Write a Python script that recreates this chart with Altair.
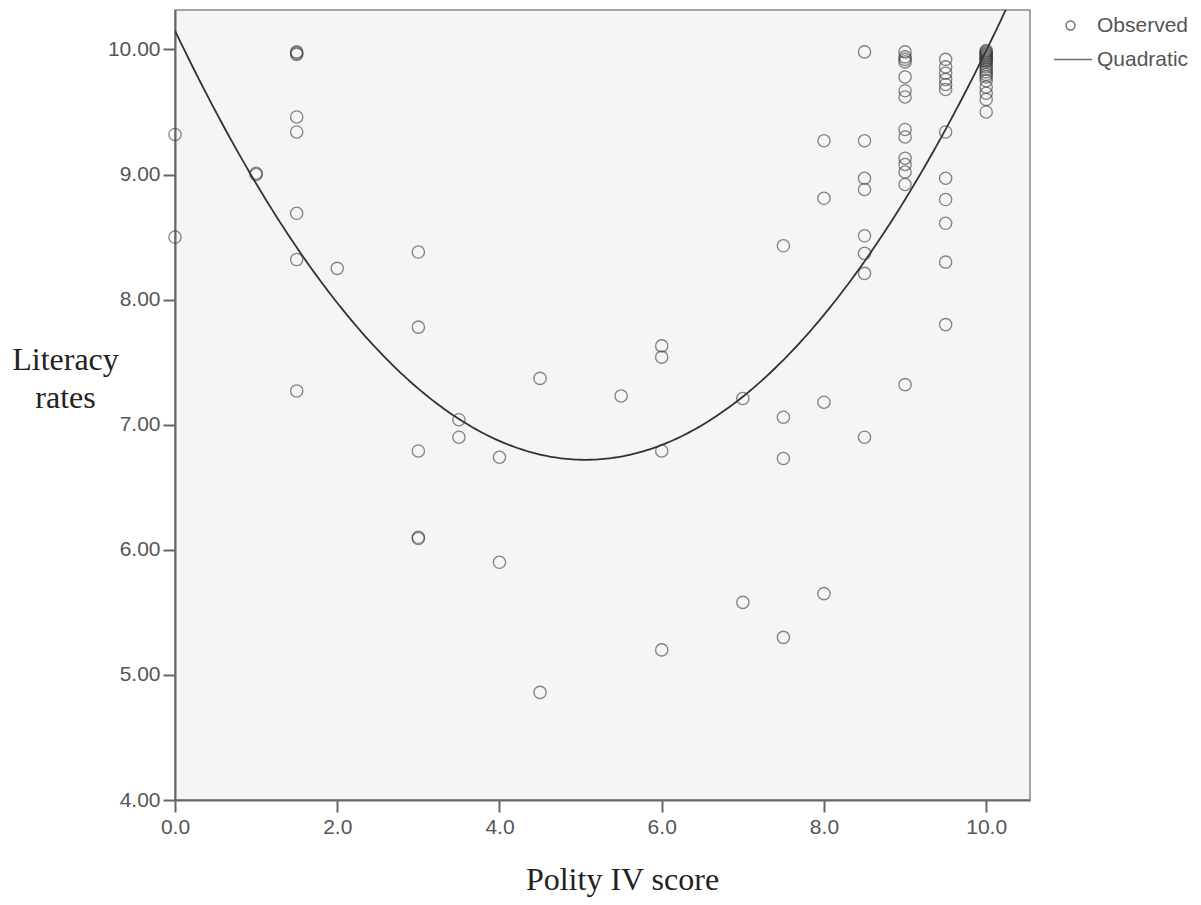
import altair as alt
import pandas as pd
import numpy as np

# Observed data (Polity IV score, literacy rate)
polity = (
    [0.0, 0.0]
    + [1.0, 1.0]
    + [1.5] * 8
    + [2.0]
    + [3.0] * 5
    + [3.5] * 2
    + [4.0] * 2
    + [4.5] * 2
    + [5.5]
    + [6.0] * 4
    + [7.0] * 2
    + [7.5] * 4
    + [8.0] * 4
    + [8.5] * 8
    + [9.0] * 14
    + [9.5] * 12
    + [10.0] * 21
)
literacy = (
    [9.32, 8.50]
    + [9.00, 9.01]
    + [9.98, 9.97, 9.96, 9.46, 9.34, 8.69, 8.32, 7.27]
    + [8.25]
    + [8.38, 7.78, 6.79, 6.10, 6.09]
    + [7.04, 6.90]
    + [6.74, 5.90]
    + [7.37, 4.86]
    + [7.23]
    + [7.63, 7.54, 6.79, 5.20]
    + [7.21, 5.58]
    + [8.43, 7.06, 6.73, 5.30]
    + [9.27, 8.81, 7.18, 5.65]
    + [9.98, 9.27, 8.97, 8.88, 8.51, 8.37, 8.21, 6.90]
    + [9.98, 9.94, 9.92, 9.90, 9.78, 9.67, 9.62, 9.36, 9.30, 9.13, 9.08, 9.02, 8.92, 7.32]
    + [9.92, 9.86, 9.81, 9.76, 9.72, 9.68, 9.34, 8.97, 8.80, 8.61, 8.30, 7.80]
    + [9.99, 9.98, 9.97, 9.96, 9.95, 9.94, 9.93, 9.92, 9.91, 9.90, 9.88, 9.86,
       9.84, 9.82, 9.80, 9.78, 9.75, 9.70, 9.65, 9.60, 9.50]
)

# Quadratic fit coefficients (as shown by the fitted curve)
b0, b1, b2 = 10.15, -1.356, 0.134
x_ticks = [0, 2, 4, 6, 8, 10]
y_ticks = [4, 5, 6, 7, 8, 9, 10]
x_domain = [0, 10.54]
y_domain = [4, 10.315]

obs = pd.DataFrame({"polity": polity, "literacy": literacy, "series": "Observed"})
xs = np.linspace(x_domain[0], x_domain[1], 300)
fit = pd.DataFrame({"polity": xs, "literacy": b0 + b1 * xs + b2 * xs ** 2})

xscale = alt.Scale(domain=x_domain, nice=False, zero=False)
yscale = alt.Scale(domain=y_domain, nice=False, zero=False)

xaxis = alt.Axis(
    values=x_ticks, format=".1f", title="Polity IV score",
    titleX=447, titleY=89, titleAnchor="start", titleAlign="center",
    titleBaseline="alphabetic", labelPadding=4,
)
yaxis = alt.Axis(
    values=y_ticks, format=".2f", title=["Literacy", "rates"],
    titleAngle=0, titleX=-110, titleY=359, titleAlign="center",
    titleBaseline="alphabetic", titleLineHeight=38, labelPadding=3,
)

points = alt.Chart(obs).mark_point(
    filled=False, size=150, stroke="#3a3a3a", strokeWidth=1.35, strokeOpacity=0.85,
).encode(
    x=alt.X("polity:Q", scale=xscale, axis=xaxis),
    y=alt.Y("literacy:Q", scale=yscale, axis=yaxis),
    shape=alt.Shape(
        "series:N",
        scale=alt.Scale(domain=["Observed", "Quadratic"], range=["circle", "M-3.69,0L4.81,0"]),
        legend=alt.Legend(
            title=None, orient="none", legendX=885, legendY=5,
            symbolSize=80, symbolStrokeColor="#333333", symbolStrokeWidth=1.4,
            labelFont="Liberation Sans", labelFontSize=21, labelColor="#555555",
            labelOffset=16, rowPadding=12,
        ),
    ),
)

line = alt.Chart(fit).mark_line(color="#333333", strokeWidth=1.8, clip=True).encode(
    x=alt.X("polity:Q", scale=xscale),
    y=alt.Y("literacy:Q", scale=yscale),
)

chart = (
    alt.layer(line, points)
    .properties(
        width=855, height=790,
        autosize=alt.AutoSizeParams(type="none"),
        padding={"left": 167, "top": 2, "right": 163, "bottom": 97},
    )
    .configure_view(fill="#f5f5f5", stroke="#888888", strokeWidth=1.5)
    .configure_axis(
        grid=False, domainColor="#666666", domainWidth=2, tickColor="#666666",
        tickWidth=2, tickSize=12, labelFont="Liberation Sans", labelFontSize=21,
        labelColor="#555555", labelFlush=False, titleFont="Liberation Serif",
        titleFontSize=32, titleColor="#222222", titleFontWeight="normal",
    )
)

chart.save("out.html", embed_options={"renderer": "svg", "actions": False})
